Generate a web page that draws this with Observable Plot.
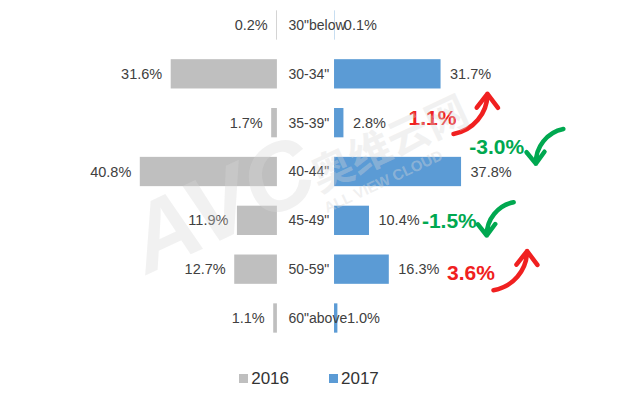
<!DOCTYPE html>
<html>
<head>
<meta charset="utf-8">
<script src="https://cdn.jsdelivr.net/npm/d3@7"></script>
<script src="https://cdn.jsdelivr.net/npm/@observablehq/plot@0.6"></script>
<style>
  html, body { margin: 0; padding: 0; background: #fff; }
  #chart { width: 640px; }
  .legend { display: flex; justify-content: center; align-items: center; gap: 40px; height: 43px;
    font-family: "Liberation Sans", Arial, sans-serif; font-size: 17px; color: #333;
    padding-right: 22px; padding-top: 14px; box-sizing: border-box; }
  .legend span.item { display: flex; align-items: center; gap: 3px; }
  .legend i { display: inline-block; width: 9px; height: 9px; }
</style>
</head>
<body>
<div id="chart"></div>
<script>
// ---- data ----
const categories = ['30"below', '30-34"', '35-39"', '40-44"', '45-49"', '50-59"', '60"above'];
const values2016 = [0.2, 31.6, 1.7, 40.8, 11.9, 12.7, 1.1];
const values2017 = [0.1, 31.7, 2.8, 37.8, 10.4, 16.3, 1.0];
const seriesNames = ["2016", "2017"];
const changeValues = [1.1, -3.0, -1.5, 3.6];
const changeLabels = ["1.1%", "-3.0%", "-1.5%", "3.6%"];

// ---- layout (data units of the x / row scales) ----
const GAP = 8.5;          // half gap between the two sides
const LABEL_X = -5.2;     // category label start
const annotLayout = [
  {tx: 30.5, ty: 1.9,  ax1: 43.9, ay1: 2.22, ax2: 54.0, ay2: 1.40, bend: -40},
  {tx: 48.6, ty: 2.5,  ax1: 76.6, ay1: 2.12, ax2: 68.4, ay2: 2.83, bend: -40},
  {tx: 34.5, ty: 4.0,  ax1: 61.8, ay1: 3.62, ax2: 53.8, ay2: 4.30, bend: -40},
  {tx: 42.0, ty: 5.07, ax1: 55.8, ay1: 5.42, ax2: 65.8, ay2: 4.62, bend: -40}
];

const colors = {"2016": "#BFBFBF", "2017": "#5B9BD5"};
const labelColor = "#404040";
const font = '"Liberation Sans", Arial, sans-serif';

const rows = categories.map((c, i) => ({cat: c, i, v16: values2016[i], v17: values2017[i]}));
const annots = changeValues.map((v, k) => ({v, label: changeLabels[k], color: v >= 0 ? "#F02020" : "#00A850", ...annotLayout[k]}));

const half = 0.3;

const plot = Plot.plot({
  width: 640,
  height: 350,
  margin: 0,
  style: {fontFamily: font, background: "transparent"},
  x: {domain: [-90.9, 99.55], range: [0, 640], axis: null},
  y: {domain: [0, 6], range: [25, 318], axis: null},
  marks: [
    // 2016 bars (left)
    Plot.rectX(rows, {x1: d => -GAP, x2: d => -GAP - d.v16, y1: d => d.i - half, y2: d => d.i + half, fill: colors["2016"]}),
    // 2017 bars (right)
    Plot.rectX(rows, {x1: d => GAP, x2: d => GAP + d.v17, y1: d => d.i - half, y2: d => d.i + half, fill: colors["2017"]}),
    // value labels
    Plot.text(rows, {x: d => -GAP - d.v16, y: "i", text: d => d.v16.toFixed(1) + "%", textAnchor: "end", dx: -9, fontSize: 14.5, fill: labelColor}),
    Plot.text(rows, {x: d => GAP + d.v17, y: "i", text: d => d.v17.toFixed(1) + "%", textAnchor: "start", dx: 9, fontSize: 14.5, fill: labelColor}),
    // category labels
    Plot.text(rows, {x: d => LABEL_X, y: "i", text: "cat", textAnchor: "start", fontSize: 14, fill: labelColor}),
    // change annotations
    Plot.text(annots, {x: "tx", y: "ty", text: "label", textAnchor: "start", fontSize: 21, fontWeight: "bold", fill: "color"}),
    ...annots.map(a => Plot.arrow([a], {x1: "ax1", y1: "ay1", x2: "ax2", y2: "ay2", bend: a.bend, stroke: a.color, strokeWidth: 4.5, headLength: 12, headAngle: 75})),
    // watermark
    Plot.text(["AVC"], {x: [-25], y: [3.7], text: d => d, fontSize: 95, fontWeight: "bold", fontStyle: "italic", rotate: -25, fill: "#d8d8d8", fillOpacity: 0.35}),
    Plot.text(["奥维云网"], {x: [25], y: [2.45], text: d => d, fontSize: 42, fontWeight: "bold", rotate: -25, fill: "#d8d8d8", fillOpacity: 0.35, fontFamily: '"Noto Sans CJK SC", sans-serif'}),
    Plot.text(["ALL VIEW CLOUD"], {x: [23], y: [3.2], text: d => d, fontSize: 15, fontWeight: "bold", rotate: -25, fill: "#d8d8d8", fillOpacity: 0.4})
  ]
});
document.getElementById("chart").appendChild(plot);

const legend = document.createElement("div");
legend.className = "legend";
seriesNames.forEach(s => {
  const item = document.createElement("span");
  item.className = "item";
  const sw = document.createElement("i");
  sw.style.background = colors[s];
  item.appendChild(sw);
  item.appendChild(document.createTextNode(s));
  legend.appendChild(item);
});
document.getElementById("chart").appendChild(legend);
</script>
</body>
</html>
